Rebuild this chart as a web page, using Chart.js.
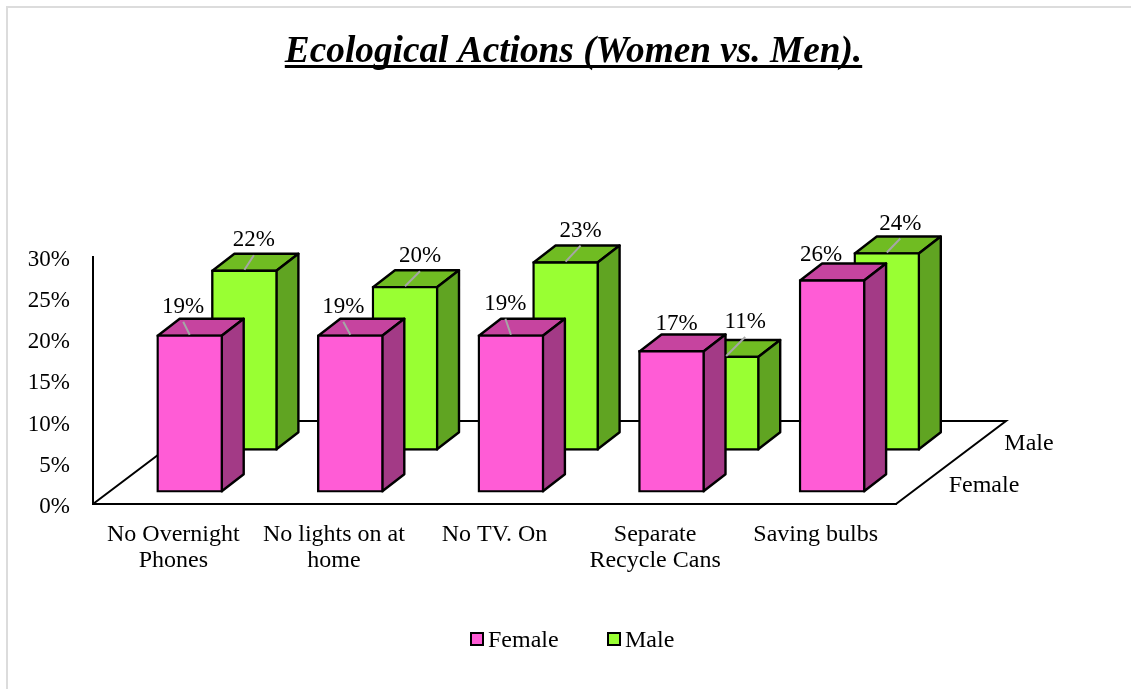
<!DOCTYPE html>
<html>
<head>
<meta charset="utf-8">
<title>Ecological Actions</title>
<script src="https://cdn.jsdelivr.net/npm/chart.js@4"></script>
<style>
  html, body { margin: 0; padding: 0; background: #fff; }
  canvas { display: block; }
</style>
</head>
<body>
<canvas id="EcoChart" width="1131" height="689"></canvas>
<script>
var Categories = [['No Overnight', 'Phones'], ['No lights on at', 'home'], 'No TV. On', ['Separate', 'Recycle Cans'], 'Saving bulbs'];
var FemaleValues = [19.1, 19.1, 19.1, 17.2, 25.8];
var MaleValues = [21.9, 19.9, 22.9, 11.45, 24];
var TitleText = 'Ecological Actions (Women vs. Men).';
var FontName = '"Liberation Serif", "Times New Roman", serif';
var FontSize = 24;
var TickSize = 23;

// colours: front, top, side
var Pink = ['#ff5cd6', '#c6449f', '#a33a86'];
var Green = ['#99ff33', '#70bc22', '#60a422'];

// how far each series sits back on the floor
var SeriesShift = [{x: 16.4, y: -11.8}, {x: 71.1, y: -53.7}];
var Depth = {x: 22, y: 17};
var FloorDepth = {x: 110, y: 83};

// data label offsets from the top centre of the bar
var LabelDX = [[-6.5, -7, -5.5, 5, -11], [9.5, 15, 15, 19, 13.5]];
var LabelDY = [[-28, -28, -31, -26, -25], [-29.5, -30, -31, -34, -29]];
var Leader = [[1, 1, 1, 0, 0], [1, 1, 1, 1, 1]];

function Face(ctx, pts, colour)
{
    ctx.beginPath();
    ctx.moveTo(pts[0][0], pts[0][1]);
    for (var i = 1; i < pts.length; i++) ctx.lineTo(pts[i][0], pts[i][1]);
    ctx.closePath();
    ctx.fillStyle = colour;
    ctx.fill();
    ctx.stroke();
}

var Frame = {
    id: 'frame',
    beforeDraw: function(chart) {
        var ctx = chart.ctx;
        ctx.save();
        ctx.fillStyle = '#dcdcdc';
        ctx.fillRect(6, 6, 2, chart.height);
        ctx.fillRect(6, 6, chart.width, 2);
        ctx.restore();
    }
};

// title is centred a little right of the canvas middle in the original
var TitleShift = {
    id: 'titleShift',
    afterLayout: function(chart) {
        chart.titleBlock.left = 16;
        chart.titleBlock.right = chart.width;
    }
};

var Floor = {
    id: 'floor',
    beforeDatasetsDraw: function(chart) {
        var ctx = chart.ctx, a = chart.chartArea;
        ctx.save();
        ctx.strokeStyle = '#000';
        ctx.lineWidth = 2;
        ctx.beginPath();
        ctx.moveTo(a.left, a.bottom);
        ctx.lineTo(a.left + FloorDepth.x, a.bottom - FloorDepth.y);
        ctx.lineTo(a.right + FloorDepth.x, a.bottom - FloorDepth.y);
        ctx.lineTo(a.right, a.bottom);
        ctx.stroke();
        ctx.restore();
    }
};

// shift each series back and add the top and side faces, the library draws the front
var Bars3D = {
    id: 'bars3d',
    beforeDatasetDraw: function(chart, args) {
        var ctx = chart.ctx;
        var s = SeriesShift[args.index];
        var c = args.index == 0 ? Pink : Green;
        ctx.save();
        ctx.translate(s.x, s.y);
        ctx.strokeStyle = '#000';
        ctx.lineWidth = 2.4;
        ctx.lineJoin = 'round';
        args.meta.data.forEach(function(b) {
            var l = b.x - b.width / 2 + 1, r = b.x + b.width / 2 - 1;
            var t = b.y + 1, u = b.base - 1;
            Face(ctx, [[l, t], [l + Depth.x, t - Depth.y], [r + Depth.x, t - Depth.y], [r, t]], c[1]);
            Face(ctx, [[r, t], [r + Depth.x, t - Depth.y], [r + Depth.x, u - Depth.y], [r, u]], c[2]);
        });
    },
    afterDatasetDraw: function(chart) {
        chart.ctx.restore();
    }
};

var BarLabels = {
    id: 'barLabels',
    afterDatasetsDraw: function(chart) {
        var ctx = chart.ctx;
        ctx.save();
        ctx.font = TickSize + 'px ' + FontName;
        ctx.textAlign = 'center';
        ctx.textBaseline = 'middle';
        chart.data.datasets.forEach(function(ds, i) {
            var s = SeriesShift[i];
            chart.getDatasetMeta(i).data.forEach(function(b, j) {
                var x = b.x + s.x, y = b.y + s.y;
                var lx = x + LabelDX[i][j], ly = y + LabelDY[i][j];
                if (Leader[i][j]) {
                    ctx.strokeStyle = '#a6a6a6';
                    ctx.lineWidth = 2;
                    ctx.beginPath();
                    ctx.moveTo(x, y);
                    ctx.lineTo(lx, ly + 15);
                    ctx.stroke();
                }
                ctx.fillStyle = '#000';
                ctx.fillText(Math.round(ds.data[j]) + '%', lx, ly);
            });
        });
        ctx.restore();
    }
};

// series names beside the floor, underline and the bottom legend
var Extras = {
    id: 'extras',
    afterDraw: function(chart) {
        var ctx = chart.ctx, a = chart.chartArea;
        ctx.save();
        ctx.fillStyle = '#000';
        ctx.font = FontSize + 'px ' + FontName;
        ctx.textAlign = 'center';
        ctx.textBaseline = 'middle';
        ctx.fillText('Female', a.right + 88, a.bottom - 18);
        ctx.fillText('Male', a.right + 133, a.bottom - 60);

        // legend
        ctx.textAlign = 'left';
        var LegendX = [470, 607];
        chart.data.datasets.forEach(function(ds, i) {
            ctx.fillStyle = ds.backgroundColor;
            ctx.strokeStyle = '#000';
            ctx.lineWidth = 2;
            ctx.fillRect(LegendX[i] + 1, 633, 12, 12);
            ctx.strokeRect(LegendX[i] + 1, 633, 12, 12);
            ctx.fillStyle = '#000';
            ctx.fillText(ds.label, LegendX[i] + 18, 641);
        });

        // chart.js title has no underline
        var t = chart.titleBlock;
        var o = chart.options.plugins.title.font;
        ctx.font = 'italic bold ' + o.size + 'px ' + FontName;
        var w = ctx.measureText(TitleText).width;
        var mid = (t.left + t.right) / 2;
        ctx.fillRect(mid - w / 2, 65, w, 3);
        ctx.restore();
    }
};

var EcoChart = new Chart(document.getElementById('EcoChart').getContext('2d'), {
    type: 'bar',
    data: {
        labels: Categories,
        datasets: [
            {label: 'Female', data: FemaleValues, backgroundColor: Pink[0]},
            {label: 'Male', data: MaleValues, backgroundColor: Green[0]}
        ]
    },
    options: {
        responsive: false,
        animation: false,
        clip: false,
        layout: {padding: {left: 0, right: 235, top: 0, bottom: 0}},
        datasets: {
            bar: {grouped: false, barThickness: 66, borderColor: '#000', borderWidth: 2.4, borderSkipped: false}
        },
        plugins: {
            legend: {display: false},
            tooltip: {enabled: false},
            title: {
                display: true,
                text: TitleText,
                color: '#000',
                font: {family: FontName, size: 37.3, style: 'italic', weight: 'bold', lineHeight: 1.2},
                padding: {top: 30, bottom: 182}
            }
        },
        scales: {
            x: {
                grid: {display: false, drawTicks: false},
                border: {display: true, color: '#000', width: 2},
                ticks: {color: '#000', maxRotation: 0, autoSkip: false, padding: 17.5, font: {family: FontName, size: FontSize, lineHeight: 1.1}},
                afterFit: function(s) { s.height = 185; }
            },
            y: {
                min: 0,
                max: 30,
                grid: {display: false, drawTicks: false},
                border: {display: true, color: '#000', width: 2},
                ticks: {
                    color: '#000',
                    stepSize: 5,
                    padding: 23,
                    labelOffset: 3,
                    font: {family: FontName, size: TickSize},
                    callback: function(v) { return v + '%'; }
                },
                afterFit: function(s) { s.width = 93; }
            }
        }
    },
    plugins: [Frame, TitleShift, Floor, Bars3D, BarLabels, Extras]
});
</script>
</body>
</html>
